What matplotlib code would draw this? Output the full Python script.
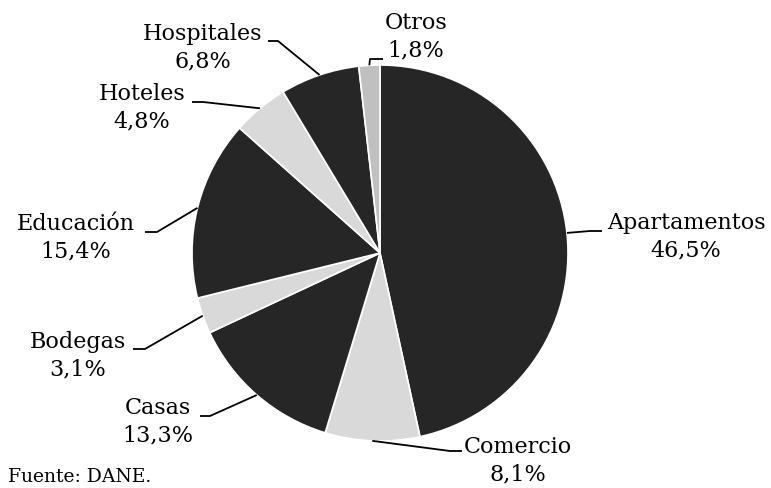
"""
Distribucion del area licenciada por destino - pie chart
"""
import numpy as np
import matplotlib.pyplot as plt

categorias = ['Apartamentos', 'Comercio', 'Casas', 'Bodegas',
              'Educación', 'Hoteles', 'Hospitales', 'Otros']
participacion = [46.5, 8.1, 13.3, 3.1, 15.4, 4.8, 6.8, 1.8]
colores = ['#262626', '#d9d9d9', '#262626', '#d9d9d9',
           '#262626', '#d9d9d9', '#262626', '#c0c0c0']

# layout in pixels (y measured from the top of the image)
W, H = 771, 489
cx, cy, r = 380, 254, 188
# text block centre (x, y) and leader elbow (x slant end, x horizontal end, y)
pos_texto = [(686, 237), (518, 461), (158, 422), (78, 356),
             (76, 238), (142, 108), (203, 48), (416, 37)]
codos = [(590, 602, 232), (450, 462, 452), (210, 200, 417), (145, 133, 350),
         (157, 145, 233), (203, 192, 103), (278, 268, 42), (370, 383, 60)]

fig = plt.figure(figsize=(W / 100, H / 100), dpi=100)
ax = fig.add_axes([0, 0, 1, 1])

wedges, _ = ax.pie(participacion, colors=colores, startangle=90,
                   counterclock=False, center=(cx, H - cy), radius=r,
                   wedgeprops=dict(edgecolor='white', linewidth=1.2))
ax.set_xlim(0, W)
ax.set_ylim(0, H)
ax.set_aspect('equal')
ax.axis('off')

for w, cat, val, (tx, ty), (x1, x2, ye) in zip(wedges, categorias, participacion,
                                               pos_texto, codos):
    ang = np.deg2rad((w.theta1 + w.theta2) / 2)
    ex = cx + r * np.cos(ang)
    ey = (H - cy) + r * np.sin(ang)
    ax.plot([ex, x1, x2], [ey, H - ye, H - ye], color='black', lw=1.3,
            solid_capstyle='butt')
    etiqueta = cat + '\n' + f'{val:.1f}'.replace('.', ',') + '%'
    ax.text(tx, H - ty, etiqueta, ha='center', va='center', fontsize=16,
            family='DejaVu Serif', linespacing=1.3)

ax.text(8, H - 477, 'Fuente: DANE.', ha='left', va='center', fontsize=13.5,
        family='DejaVu Serif')

plt.savefig('out.png', dpi=100)
